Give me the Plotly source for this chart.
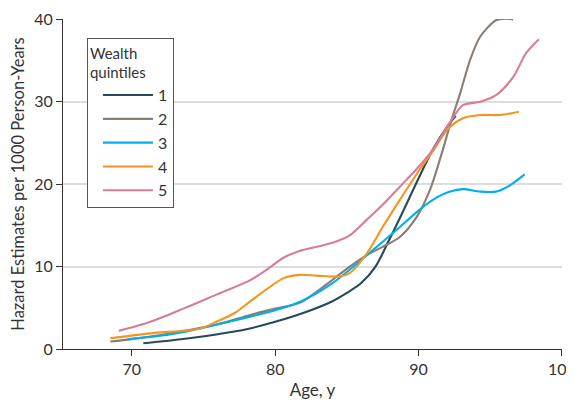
import plotly.graph_objects as go

# Wealth quintile hazard curves
q1_age = [70.8, 72, 74, 76, 78, 80, 82, 84, 85, 86, 87, 88, 89, 90, 91, 92, 92.6]
q1_haz = [0.7, 0.9, 1.3, 1.8, 2.4, 3.3, 4.4, 5.8, 6.8, 8.0, 10.0, 13.4, 17.0, 20.7, 24.2, 27.0, 28.3]

q2_age = [68.5, 70, 72, 74, 76, 78.2, 80, 81.7, 84, 85.2, 86.4, 87.5, 88.7, 89.9, 90.8, 91.7, 92.3, 92.9, 93.6, 94.3, 95.4, 96.1, 96.6]
q2_haz = [0.9, 1.2, 1.7, 2.3, 3.0, 4.1, 4.9, 5.6, 8.4, 10.0, 11.4, 12.4, 13.6, 16.1, 19.3, 24.2, 27.8, 31.0, 35.1, 37.9, 39.9, 40.1, 40.0]

q3_age = [69.7, 72, 74, 76, 78.2, 80, 81.7, 84, 86.4, 88.7, 90, 91, 92.2, 93.1, 94.3, 95.4, 96.4, 97.4]
q3_haz = [1.2, 1.6, 2.2, 3.0, 3.9, 4.7, 5.7, 8.0, 11.4, 14.8, 16.8, 18.1, 19.1, 19.4, 19.1, 19.1, 19.9, 21.2]

q4_age = [68.5, 71.3, 74.8, 75.9, 77.2, 78.2, 80.6, 81.7, 82.9, 84.5, 85.2, 86.4, 87.5, 88.7, 89.9, 91, 92, 93.1, 94.3, 95.7, 97]
q4_haz = [1.3, 1.9, 2.5, 3.3, 4.4, 5.7, 8.6, 9.0, 8.9, 8.8, 9.2, 11.6, 14.8, 18.1, 21.3, 24.0, 26.6, 28.0, 28.4, 28.4, 28.8]

q5_age = [69.1, 71.3, 73.6, 75.9, 78.2, 79.4, 80.6, 81.7, 82.9, 84, 85.2, 86.4, 87.5, 88.7, 89.9, 91, 92.3, 93.1, 94.3, 95.4, 96.6, 97.5, 98.4]
q5_haz = [2.2, 3.3, 4.9, 6.6, 8.3, 9.6, 11.1, 11.9, 12.4, 12.9, 13.8, 15.7, 17.5, 19.7, 21.9, 24.2, 27.8, 29.6, 30.0, 30.8, 33.0, 35.9, 37.6]

names = ["1", "2", "3", "4", "5"]
colors = ["#274a5a", "#8a7e72", "#00aeef", "#f7941d", "#d87d93"]
series = [(q1_age, q1_haz), (q2_age, q2_haz), (q3_age, q3_haz), (q4_age, q4_haz), (q5_age, q5_haz)]

FONT = "Lato"
fig = go.Figure()
for (xs, ys), n, c in zip(series, names, colors):
    fig.add_trace(go.Scatter(x=xs, y=ys, mode="lines", name=n,
                             line=dict(color=c, width=2.1, shape="spline", smoothing=0.8)))

# page body has an 8px margin, so the figure is sized to fill the remaining window
fig.update_layout(
    width=566, height=392,
    margin=dict(l=55, r=12, t=11, b=51),
    paper_bgcolor="white", plot_bgcolor="white",
    font=dict(family=FONT, size=15, color="#333333"),
    showlegend=True,
    legend=dict(
        title=dict(text="Wealth<br>quintiles", font=dict(size=15)),
        x=0.048, y=0.942, xanchor="left", yanchor="top",
        bgcolor="white", bordercolor="#555555", borderwidth=1,
        font=dict(size=16), itemwidth=50, tracegroupgap=0, indentation=10,
    ),
    xaxis=dict(range=[65.2, 100.01], tickvals=[70, 80, 90, 100],
               showline=True, linecolor="#333333", linewidth=1.2,
               ticks="outside", ticklen=6, tickcolor="#333333",
               showgrid=False, zeroline=False, automargin=False,
               tickfont=dict(size=16), ticklabeloverflow="allow",
               title=dict(text="Age, y", standoff=9, font=dict(size=17))),
    yaxis=dict(range=[0, 40.05], tickvals=[0, 10, 20, 30, 40],
               showline=True, linecolor="#333333", linewidth=1.2,
               ticks="outside", ticklen=6, tickcolor="#333333",
               showgrid=True, gridcolor="#dddddd", gridwidth=1.5,
               zeroline=False, automargin=False,
               tickfont=dict(size=16), ticklabeloverflow="allow",
               title=dict(text="Hazard Estimates per 1000 Person-Years", standoff=6,
                          font=dict(size=16.5))),
)
fig.write_html("out.html")
